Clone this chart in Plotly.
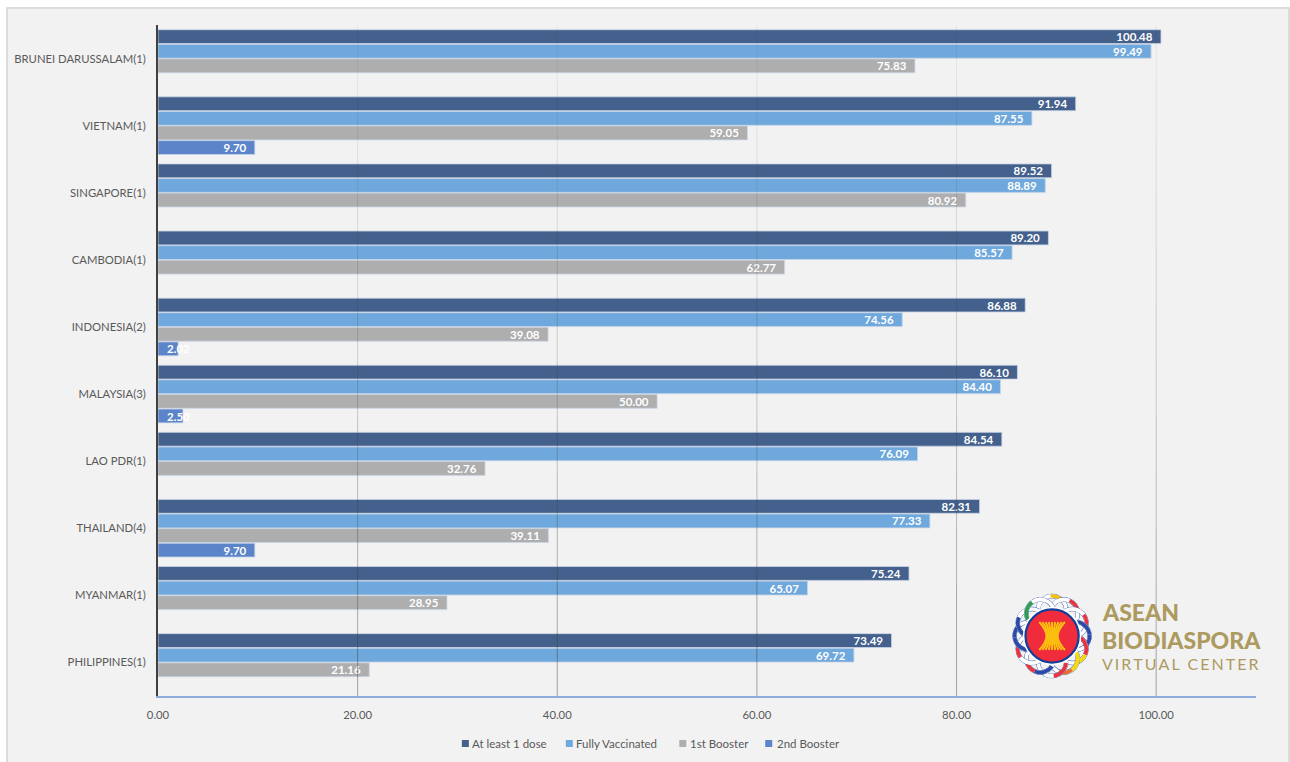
import base64, math
import plotly.graph_objects as go

countries = ["BRUNEI DARUSSALAM(1)", "VIETNAM(1)", "SINGAPORE(1)", "CAMBODIA(1)", "INDONESIA(2)",
             "MALAYSIA(3)", "LAO PDR(1)", "THAILAND(4)", "MYANMAR(1)", "PHILIPPINES(1)"]
at_least_one = [100.48, 91.94, 89.52, 89.20, 86.88, 86.10, 84.54, 82.31, 75.24, 73.49]
fully_vacc = [99.49, 87.55, 88.89, 85.57, 74.56, 84.40, 76.09, 77.33, 65.07, 69.72]
booster_1 = [75.83, 59.05, 80.92, 62.77, 39.08, 50.00, 32.76, 39.11, 28.95, 21.16]
booster_2 = [None, 9.70, None, None, 2.02, 2.50, None, 9.70, None, None]
series_names = ["At least 1 dose", "Fully Vaccinated", "1st Booster", "2nd Booster"]
series_colors = ["#44608c", "#6fa8dc", "#aeaeae", "#5b84c9"]
x_ticks = [0, 20, 40, 60, 80, 100]

W, H = 1290, 762
L, R, T, B = 157.5, 34, 25, 66
FONT = "Lato, Carlito, Calibri, sans-serif"
TXT = "#595959"
SMALL = 5  # bars too short to hold their label
SMALL_LABEL_X = 2.05  # where the labels of those bars sit

def px(x):
    return (x - L) / (W - L - R)

def py(y):
    return 1 - (y - T) / (H - T - B)

LABEL_FONT = dict(family=FONT, size=11.5, color="white", weight="bold")

fig = go.Figure()
for name, vals, col in zip(series_names, [at_least_one, fully_vacc, booster_1, booster_2], series_colors):
    fig.add_trace(go.Bar(
        name=name, y=countries, x=vals, orientation="h",
        marker=dict(color=col, line=dict(color="#c9d6e6", width=0.8)),
        text=[None if v is None else f"{v:.2f}\u00a0\u00a0" for v in vals],
        textposition=["none" if (v is None or v < SMALL) else "inside" for v in vals],
        insidetextanchor="end", constraintext="none", textangle=0,
        textfont=LABEL_FONT,
        cliponaxis=False, hoverinfo="x+y", showlegend=False,
    ))

# ASEAN emblem (decorative)
c = 43
lobes = [("#ffffff", "#f4c20d"), ("#ffffff", "#e9333f"), ("#ffffff", "#e9333f"), ("#2a4aa8", "#2a4aa8"),
         ("#e9333f", "#f5d90a"), ("#f5d90a", "#e8702a"), ("#e9333f", "#ffffff"), ("#2a4aa8", "#e9333f"),
         ("#ffffff", "#e9333f"), ("#2a4aa8", "#2a4aa8"), ("#2a4aa8", "#ffffff"), ("#2e9e4f", "#ffffff")]
parts = []
n = len(lobes)
RL = 14

def arc(cx, cy, a0, a1, col, w):
    x0, y0 = cx + RL * math.cos(a0), cy + RL * math.sin(a0)
    x1, y1 = cx + RL * math.cos(a1), cy + RL * math.sin(a1)
    return f'<path d="M{x0:.2f} {y0:.2f} A{RL} {RL} 0 0 1 {x1:.2f} {y1:.2f}" fill="none" stroke="{col}" stroke-width="{w}"/>'

for i, (c1, c2) in enumerate(lobes):
    t = -math.pi / 2 + i * 2 * math.pi / n
    cx, cy = c + 23.5 * math.cos(t), c + 26 * math.sin(t)
    parts.append(f'<circle cx="{cx:.2f}" cy="{cy:.2f}" r="{RL}" fill="none" stroke="#3d5aa8" stroke-width="4.4"/>')
    parts.append(f'<circle cx="{cx:.2f}" cy="{cy:.2f}" r="{RL}" fill="none" stroke="#ffffff" stroke-width="3.6"/>')
    parts.append(arc(cx, cy, t - 1.5, t - 0.1, c1, 3.6))
    parts.append(arc(cx, cy, t - 0.1, t + 0.9, c2, 3.6))
parts.append(f'<circle cx="{c}" cy="{c}" r="29.3" fill="#ffffff"/>')
parts.append(f'<circle cx="{c}" cy="{c}" r="26.6" fill="#ef2b3c" stroke="#123f9c" stroke-width="2.2"/>')
for k in range(-4, 5):
    xt = c + k * 3.2
    xm = c + k * 1.4
    parts.append(f'<path d="M{xt:.1f} {c-14} Q{xm:.1f} {c-6} {xm:.1f} {c} Q{xm:.1f} {c+6} {xt:.1f} {c+14}" fill="none" stroke="#fcc10f" stroke-width="2"/>')
svg = f'<svg xmlns="http://www.w3.org/2000/svg" viewBox="0 0 86 86" width="344" height="344">{"".join(parts)}</svg>'
logo = "data:image/svg+xml;base64," + base64.b64encode(svg.encode()).decode()

GOLD = "#ad9a5f"
annotations = [
    dict(text="ASEAN", x=px(1100), y=py(612), font=dict(size=23, color=GOLD, family="Lato, sans-serif", weight=900)),
    dict(text="BIODIASPORA", x=px(1100), y=py(639.5), font=dict(size=23, color=GOLD, family="Lato, sans-serif", weight=900)),
    dict(text="V I R T U A L\u2002C E N T E R".replace(" ", "\u200a\u200a"), x=px(1100), y=py(663), font=dict(size=16, color=GOLD, family="Lato, sans-serif")),
]
# Legend row, laid out like the reference
legend_swatch_px = [461.5, 565.5, 679, 765]
legend_text_px = [469.5, 574, 687.5, 774.5]
shapes = [dict(type="rect", xref="paper", yref="paper", layer="below", x0=px(6.5), x1=px(1289), y0=py(8), y1=py(775),
               fillcolor="#f2f2f2", line=dict(color="#dcdcdc", width=2))]
for name, col, sx, tx in zip(series_names, series_colors, legend_swatch_px, legend_text_px):
    shapes.append(dict(type="rect", xref="paper", yref="paper", x0=px(sx), x1=px(sx + 7), y0=py(740), y1=py(747),
                       fillcolor=col, line=dict(width=0)))
    annotations.append(dict(text=name, x=px(tx), y=py(743.5), font=dict(size=11.5, color=TXT, family=FONT)))
for a in annotations:
    a.update(xref="paper", yref="paper", xanchor="left", yanchor="middle", showarrow=False)

# Labels of very short bars overflow the bar end
for cat, v in zip(countries, booster_2):
    if v is not None and v < SMALL:
        annotations.append(dict(text=f"{v:.2f}", x=SMALL_LABEL_X, y=cat, xref="x", yref="y", yshift=-22, xanchor="center",
                                yanchor="middle", showarrow=False, font=LABEL_FONT))

# Gridlines fade from pale at the top to darker at the bottom
grid_steps = [0.07, 0.09, 0.11, 0.14, 0.17, 0.2, 0.23, 0.27, 0.31, 0.36, 0.4, 0.44]
for tick in x_ticks[1:]:
    for i, alpha in enumerate(grid_steps):
        shapes.append(dict(type="line", xref="x", yref="paper", x0=tick, x1=tick, layer="above",
                           y0=1 - i / len(grid_steps), y1=1 - (i + 1) / len(grid_steps),
                           line=dict(color=f"rgba(60,60,60,{alpha})", width=1)))

fig.update_layout(
    width=W, height=H, autosize=False,
    margin=dict(l=L, r=R, t=T, b=B, pad=0, autoexpand=False),
    paper_bgcolor="white", plot_bgcolor="rgba(0,0,0,0)",
    font=dict(family=FONT, size=11.3, color=TXT),
    barmode="group", bargap=0.13, bargroupgap=0.05, showlegend=False,
    xaxis=dict(range=[0, 110], tickvals=x_ticks, tickformat=".2f", showgrid=False,
               zeroline=False, showline=True, linecolor="#8eaadb", linewidth=2, ticks="", ticklabelstandoff=7),
    yaxis=dict(categoryorder="array", categoryarray=countries, autorange="reversed", showgrid=False, showline=True,
               linecolor="#404040", linewidth=2, ticks="", ticklabelstandoff=8),
    shapes=shapes,
    images=[dict(source=logo, xref="paper", yref="paper", x=px(1009), y=py(593), sizex=86 / (W - L - R),
                 sizey=86 / (H - T - B), xanchor="left", yanchor="top", sizing="stretch", layer="above")],
    annotations=annotations,
)
fig.write_html("out.html", config={"displayModeBar": False},
               post_script="document.body.style.margin='0';document.body.style.overflow='hidden';")
